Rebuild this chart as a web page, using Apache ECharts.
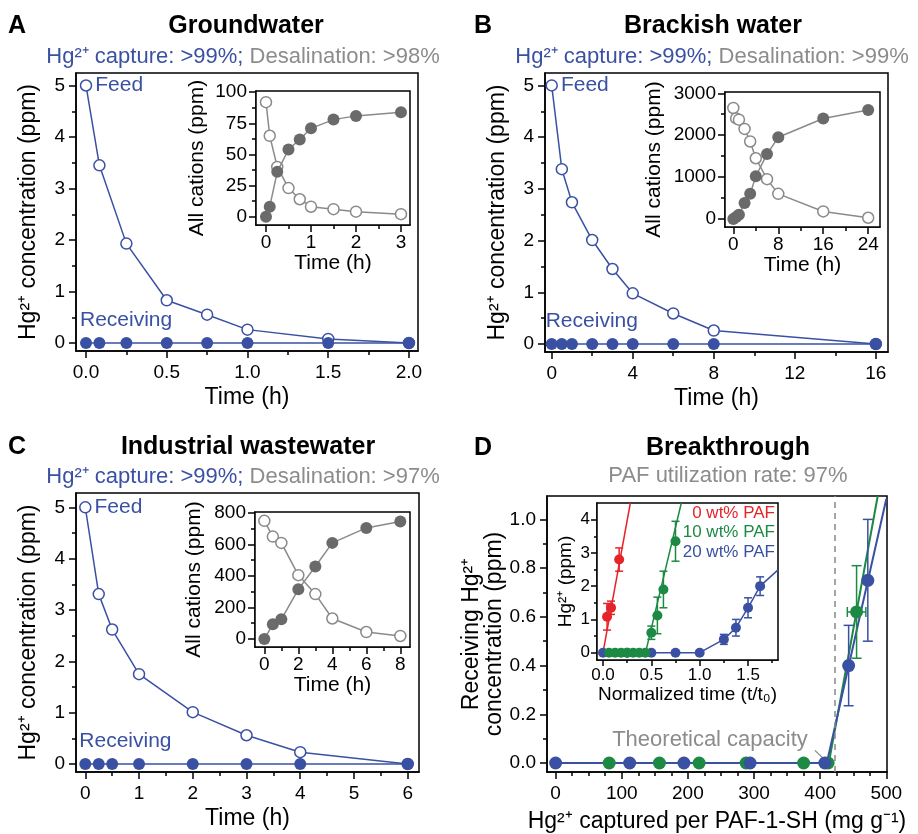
<!DOCTYPE html>
<html><head><meta charset="utf-8">
<script src="https://cdn.jsdelivr.net/npm/echarts@6/dist/echarts.min.js"></script>
<style>html,body{margin:0;padding:0;background:#fff}#c{width:918px;height:834px}</style>
</head><body><div id="c"></div>
<script>
// ---------------- DATA ----------------
// Panel A: Groundwater
const timeA = [0, 0.083, 0.25, 0.5, 0.75, 1.0, 1.5, 2.0];
const feedA = [5.0, 3.45, 1.93, 0.83, 0.55, 0.26, 0.08, 0.0];
const recvA = [0, 0, 0, 0, 0, 0, 0, 0];
const insetTimeA = [0, 0.083, 0.25, 0.5, 0.75, 1.0, 1.5, 2.0, 3.0];
const insetFeedA = [92, 65, 40, 23, 14, 8, 6, 4, 2];
const insetRecvA = [0, 8, 36, 54, 62, 71, 78, 81, 84];
// Panel B: Brackish water
const timeB = [0, 0.5, 1, 2, 3, 4, 6, 8, 16];
const feedB = [5.0, 3.38, 2.74, 2.01, 1.45, 0.98, 0.59, 0.26, 0.0];
const recvB = [0, 0, 0, 0, 0, 0, 0, 0, 0];
const insetTimeB = [0, 0.5, 1, 2, 3, 4, 6, 8, 16, 24];
const insetFeedB = [2650, 2400, 2370, 2150, 1850, 1450, 950, 600, 180, 30];
const insetRecvB = [0, 50, 100, 380, 600, 1020, 1550, 1950, 2400, 2600];
// Panel C: Industrial wastewater
const timeC = [0, 0.25, 0.5, 1, 2, 3, 4, 6];
const feedC = [5.0, 3.31, 2.62, 1.75, 1.01, 0.56, 0.23, 0.0];
const recvC = [0, 0, 0, 0, 0, 0, 0, 0];
const insetTimeC = [0, 0.5, 1, 2, 3, 4, 6, 8];
const insetFeedC = [750, 650, 610, 405, 285, 130, 44, 19];
const insetRecvC = [0, 93, 125, 315, 460, 610, 705, 745];
// Panel D: Breakthrough (main)
const dBlueX = [0, 112, 194, 294, 407, 443, 472];
const dBlueY = [0, 0, 0, 0, 0, 0.40, 0.75];
const dBlueErrY = [0, 0, 0, 0, 0, 0.165, 0.25];
const dGreenX = [81, 157, 217, 288, 375, 412, 455];
const dGreenY = [0, 0, 0, 0, 0, 0, 0.62];
const dGreenErrY = [0, 0, 0, 0, 0, 0, 0.19];
const dGreenErrX = [0, 0, 0, 0, 0, 0, 14];
const dBlueLine = [[0, 0], [410, 0], [500, 1.085]];
const dGreenLine = [[81, 0], [413, 0], [487, 1.096]];
const theoreticalCapacity = 422;
const capacityLeader = [[392, 0.052], [412, 0.0]];
// Panel D inset
const inRedX = [0.042, 0.083, 0.167];
const inRedY = [1.08, 1.35, 2.8];
const inRedErr = [0.4, 0.2, 0.35];
const inRedFit = [[0, 0], [0.283, 4.5]];
const inGreenX = [0.0625, 0.125, 0.1875, 0.25, 0.3125, 0.375, 0.4375, 0.5, 0.5625, 0.625, 0.75];
const inGreenY = [0, 0, 0, 0, 0, 0, 0, 0.6, 1.12, 1.9, 3.35];
const inGreenErr = [0, 0, 0, 0, 0, 0, 0, 0.2, 0.55, 0.55, 0.6];
const inGreenFit = [[0, 0], [0.44, 0], [0.81, 4.5]];
const inBlueX = [0, 0.25, 0.5, 0.75, 1.0, 1.25, 1.375, 1.5, 1.625];
const inBlueY = [0, 0, 0, 0, 0, 0.4, 0.75, 1.35, 2.0];
const inBlueErr = [0, 0, 0, 0, 0, 0.15, 0.25, 0.3, 0.28];
const inBlueLineEnd = [1.81, 2.49];
// Tick values
const ticksAx = [0, 0.5, 1.0, 1.5, 2.0], minorAx = [0.25, 0.75, 1.25, 1.75];
const ticksMainY = [0, 1, 2, 3, 4, 5], minorMainY = [0.5, 1.5, 2.5, 3.5, 4.5];
const ticksAix = [0, 1, 2, 3], minorAix = [0.5, 1.5, 2.5];
const ticksAiy = [0, 25, 50, 75, 100], minorAiy = [12.5, 37.5, 62.5, 87.5];
const ticksBx = [0, 4, 8, 12, 16], minorBx = [2, 6, 10, 14];
const ticksBix = [0, 8, 16, 24], minorBix = [4, 12, 20];
const ticksBiy = [0, 1000, 2000, 3000], minorBiy = [500, 1500, 2500];
const ticksCx = [0, 1, 2, 3, 4, 5, 6], minorCx = [0.5, 1.5, 2.5, 3.5, 4.5, 5.5];
const ticksCix = [0, 2, 4, 6, 8], minorCix = [1, 3, 5, 7];
const ticksCiy = [0, 200, 400, 600, 800], minorCiy = [100, 300, 500, 700];
const ticksDx = [0, 100, 200, 300, 400, 500], minorDx = [25, 50, 75, 125, 150, 175, 225, 250, 275, 325, 350, 375, 425, 450, 475];
const ticksDy = [0, 0.2, 0.4, 0.6, 0.8, 1.0], minorDy = [0.1, 0.3, 0.5, 0.7, 0.9];
const ticksDix = [0, 0.5, 1.0, 1.5], minorDix = [0.25, 0.75, 1.25, 1.75];
const ticksDiy = [0, 1, 2, 3, 4], minorDiy = [0.5, 1.5, 2.5, 3.5];

// ---------------- STYLE ----------------
const FONT = "'Liberation Sans', Arial, sans-serif";
const BLUE = '#3a51a3', GRAYF = '#6a6a6a', GRAYL = '#8a8a8a', TGRAY = '#8c8c8c', GREEN = '#1c8a43', RED = '#e52429';

const grids = [], xAxes = [], yAxes = [], series = [];
function addGrid(g) {
  grids.push(Object.assign({show: true, borderColor: '#000', borderWidth: 1.5, backgroundColor: '#fff'}, g));
  return grids.length - 1;
}
function addAxis(dim, gi, min, max, major, minor, fmt, o) {
  const arr = dim === 'x' ? xAxes : yAxes;
  const idx = arr.length;
  const pos = dim === 'x' ? 'bottom' : 'left';
  arr.push({
    type: 'value', gridIndex: gi, min: min, max: max, position: pos,
    axisLine: {show: true, onZero: false, lineStyle: {color: '#000', width: 1.5}},
    axisTick: {show: true, customValues: major, length: o.tl || 7, lineStyle: {color: '#000', width: 1.5}},
    axisLabel: {show: true, customValues: major, formatter: fmt, fontSize: o.fs || 19, color: '#000', fontFamily: FONT, margin: o.margin || 10},
    splitLine: {show: false},
    name: o.name, nameLocation: 'middle', nameGap: o.nameGap,
    nameTextStyle: {fontSize: o.nfs || 23, color: '#000', fontFamily: FONT, lineHeight: o.nlh}
  });
  arr.push({
    type: 'value', gridIndex: gi, min: min, max: max, position: pos,
    axisLine: {show: false, onZero: false},
    axisTick: {show: true, customValues: minor, length: o.mtl || 4, lineStyle: {color: '#000', width: 1.5}},
    axisLabel: {show: false}, splitLine: {show: false}
  });
  return idx;
}
const f0 = v => String(Math.round(v));
const f1 = v => v.toFixed(1);
const zip = (xs, ys) => xs.map((x, i) => [x, ys[i]]);

function feedSeries(xi, yi, t, v) {
  const data = zip(t, v);
  data[0] = {value: data[0], label: {show: true, position: 'right', distance: 3, formatter: 'Feed', color: BLUE, fontSize: 21, fontFamily: FONT}};
  return {type: 'line', xAxisIndex: xi, yAxisIndex: yi, data: data, symbol: 'circle', symbolSize: 11,
    itemStyle: {color: '#fff', borderColor: BLUE, borderWidth: 1.5}, lineStyle: {color: BLUE, width: 1.5}, z: 3, animation: false};
}
function recvSeries(xi, yi, t, v) {
  const data = zip(t, v);
  data[0] = {value: data[0], label: {show: true, position: 'top', align: 'left', offset: [-6, -1], formatter: 'Receiving', color: BLUE, fontSize: 21, fontFamily: FONT}};
  return {type: 'line', xAxisIndex: xi, yAxisIndex: yi, data: data, symbol: 'circle', symbolSize: 12,
    itemStyle: {color: BLUE}, lineStyle: {color: BLUE, width: 1.5}, z: 4, animation: false};
}
function insetSeries(xi, yi, t, open, filled) {
  series.push({type: 'line', xAxisIndex: xi, yAxisIndex: yi, data: zip(t, open), symbol: 'circle', symbolSize: 11,
    itemStyle: {color: '#fff', borderColor: GRAYL, borderWidth: 1.5}, lineStyle: {color: GRAYL, width: 1.5}, z: 5, animation: false});
  series.push({type: 'line', xAxisIndex: xi, yAxisIndex: yi, data: zip(t, filled), symbol: 'circle', symbolSize: 12,
    itemStyle: {color: GRAYF}, lineStyle: {color: GRAYL, width: 1.5}, z: 6, animation: false});
}
function errSeries(xi, yi, data, color, capPx, z) {
  return {type: 'custom', xAxisIndex: xi, yAxisIndex: yi, data: data, z: z || 5, animation: false,
    renderItem: function (params, api) {
      const x = api.value(0), y = api.value(1), ey = api.value(2), ex = api.value(3);
      const ch = [];
      const st = {stroke: color, lineWidth: 1.5};
      if (ey > 0) {
        const a = api.coord([x, y + ey]), b = api.coord([x, y - ey]);
        ch.push({type: 'line', shape: {x1: a[0], y1: a[1], x2: b[0], y2: b[1]}, style: st});
        ch.push({type: 'line', shape: {x1: a[0] - capPx, y1: a[1], x2: a[0] + capPx, y2: a[1]}, style: st});
        ch.push({type: 'line', shape: {x1: b[0] - capPx, y1: b[1], x2: b[0] + capPx, y2: b[1]}, style: st});
      }
      if (ex > 0) {
        const a = api.coord([x - ex, y]), b = api.coord([x + ex, y]);
        ch.push({type: 'line', shape: {x1: a[0], y1: a[1], x2: b[0], y2: b[1]}, style: st});
        ch.push({type: 'line', shape: {x1: a[0], y1: a[1] - capPx, x2: a[0], y2: a[1] + capPx}, style: st});
        ch.push({type: 'line', shape: {x1: b[0], y1: b[1] - capPx, x2: b[0], y2: b[1] + capPx}, style: st});
      }
      return {type: 'group', children: ch};
    }};
}
function dots(xi, yi, xs, ys, color, size, z) {
  return {type: 'scatter', xAxisIndex: xi, yAxisIndex: yi, data: zip(xs, ys), symbol: 'circle', symbolSize: size,
    itemStyle: {color: color, opacity: 1}, z: z, animation: false};
}
const CONC = 'Hg\u00b2\u207a concentration (ppm)';

// ---- Panel A ----
let g = addGrid({left: 76, top: 73, width: 342, height: 278});
let xi = addAxis('x', g, -0.062, 2.056, ticksAx, minorAx, f1, {name: 'Time (h)', nameGap: 35, margin: 12});
let yi = addAxis('y', g, -0.155, 5.243, ticksMainY, minorMainY, f0, {name: CONC, nameGap: 36, margin: 11});
series.push(feedSeries(xi, yi, timeA, feedA), recvSeries(xi, yi, timeA, recvA));
g = addGrid({left: 256, top: 91, width: 154, height: 134, z: 3});
xi = addAxis('x', g, -0.222, 3.2, ticksAix, minorAix, f0, {name: 'Time (h)', nameGap: 27, nfs: 21, margin: 8});
yi = addAxis('y', g, -6.7, 101, ticksAiy, minorAiy, f0, {name: 'All cations (ppm)', nameGap: 48, nfs: 21, margin: 9});
insetSeries(xi, yi, insetTimeA, insetFeedA, insetRecvA);

// ---- Panel B ----
g = addGrid({left: 545, top: 73, width: 343, height: 279});
xi = addAxis('x', g, -0.33, 16.6, ticksBx, minorBx, f0, {name: 'Time (h)', nameGap: 35, margin: 12});
yi = addAxis('y', g, -0.155, 5.24, ticksMainY, minorMainY, f0, {name: CONC, nameGap: 36, margin: 11});
series.push(feedSeries(xi, yi, timeB, feedB), recvSeries(xi, yi, timeB, recvB));
g = addGrid({left: 725, top: 92, width: 155, height: 135, z: 3});
xi = addAxis('x', g, -1.48, 26.1, ticksBix, minorBix, f0, {name: 'Time (h)', nameGap: 27, nfs: 21, margin: 8});
yi = addAxis('y', g, -191, 3031, ticksBiy, minorBiy, f0, {name: 'All cations (ppm)', nameGap: 60, nfs: 21, margin: 9});
insetSeries(xi, yi, insetTimeB, insetFeedB, insetRecvB);

// ---- Panel C ----
g = addGrid({left: 76, top: 493, width: 343, height: 279});
xi = addAxis('x', g, -0.173, 6.21, ticksCx, minorCx, f0, {name: 'Time (h)', nameGap: 35, margin: 12});
yi = addAxis('y', g, -0.156, 5.28, ticksMainY, minorMainY, f0, {name: CONC, nameGap: 36, margin: 11});
series.push(feedSeries(xi, yi, timeC, feedC), recvSeries(xi, yi, timeC, recvC));
g = addGrid({left: 255, top: 512, width: 155, height: 135, z: 3});
xi = addAxis('x', g, -0.55, 8.57, ticksCix, minorCix, f0, {name: 'Time (h)', nameGap: 27, nfs: 21, margin: 8});
yi = addAxis('y', g, -51, 806, ticksCiy, minorCiy, f0, {name: 'All cations (ppm)', nameGap: 50, nfs: 21, margin: 9});
insetSeries(xi, yi, insetTimeC, insetFeedC, insetRecvC);

// ---- Panel D ----
g = addGrid({left: 547, top: 496, width: 340, height: 276});
xi = addAxis('x', g, -13, 501, ticksDx, minorDx, f0, {name: 'Hg\u00b2\u207a captured per PAF-1-SH (mg g\u207b\u00b9)', nameGap: 38, margin: 12, mtl: 4});
yi = addAxis('y', g, -0.037, 1.096, ticksDy, minorDy, f1, {name: 'Receiving Hg\u00b2\u207a\nconcentration (ppm)', nameGap: 29, nlh: 23, margin: 11});
series.push({type: 'line', xAxisIndex: xi, yAxisIndex: yi, data: dGreenLine, symbol: 'none', lineStyle: {color: GREEN, width: 2}, z: 3, animation: false,
  markLine: {silent: true, symbol: 'none', label: {show: false}, animation: false,
    data: [
      {xAxis: theoreticalCapacity, lineStyle: {color: '#888', type: [6, 5], width: 1.5}},
      [{coord: capacityLeader[0], lineStyle: {color: '#888', type: 'solid', width: 1.2}}, {coord: capacityLeader[1]}]
    ]}});
series.push({type: 'line', xAxisIndex: xi, yAxisIndex: yi, data: dBlueLine, symbol: 'none', lineStyle: {color: BLUE, width: 2}, z: 4, animation: false});
series.push(errSeries(xi, yi, dGreenX.map((x, i) => [x, dGreenY[i], dGreenErrY[i], dGreenErrX[i]]), GREEN, 5, 5));
series.push(dots(xi, yi, dGreenX, dGreenY, GREEN, 13, 6));
series.push(errSeries(xi, yi, dBlueX.map((x, i) => [x, dBlueY[i], dBlueErrY[i], 0]), BLUE, 5, 7));
series.push(dots(xi, yi, dBlueX, dBlueY, BLUE, 13, 8));

g = addGrid({left: 597, top: 503, width: 181, height: 157, z: 3});
xi = addAxis('x', g, -0.062, 1.81, ticksDix, minorDix, f1, {name: 'Normalized time (t/t\u2080)', nameGap: 25, nfs: 19, fs: 17, margin: 7, tl: 6, mtl: 3});
yi = addAxis('y', g, -0.22, 4.5, ticksDiy, minorDiy, f0, {name: 'Hg\u00b2\u207a (ppm)', nameGap: 22, nfs: 19, fs: 17, margin: 7, tl: 6, mtl: 3});
series.push({type: 'line', xAxisIndex: xi, yAxisIndex: yi, data: inRedFit, symbol: 'none', lineStyle: {color: RED, width: 1.5}, z: 10, animation: false});
series.push({type: 'line', xAxisIndex: xi, yAxisIndex: yi, data: inGreenFit, symbol: 'none', lineStyle: {color: GREEN, width: 1.5}, z: 10, animation: false});
series.push({type: 'line', xAxisIndex: xi, yAxisIndex: yi, data: zip(inBlueX, inBlueY).concat([inBlueLineEnd]), symbol: 'none', lineStyle: {color: BLUE, width: 1.5}, z: 10, animation: false});
series.push(errSeries(xi, yi, inRedX.map((x, i) => [x, inRedY[i], inRedErr[i], 0]), RED, 4, 11));
series.push(errSeries(xi, yi, inGreenX.map((x, i) => [x, inGreenY[i], inGreenErr[i], 0]), GREEN, 4, 11));
series.push(errSeries(xi, yi, inBlueX.map((x, i) => [x, inBlueY[i], inBlueErr[i], 0]), BLUE, 4, 11));
series.push(dots(xi, yi, inBlueX, inBlueY, BLUE, 10, 12));
series.push(dots(xi, yi, inGreenX, inGreenY, GREEN, 10, 13));
series.push(dots(xi, yi, inRedX, inRedY, RED, 10, 14));

// ---------------- TEXT ----------------
function txt(x, y, text, font, fill, align) {
  return {type: 'text', x: x, y: y, z: 100, style: {text: text, font: font, fill: fill, align: align || 'center', verticalAlign: 'middle'}};
}
function sub(x, y, a, b) {
  return {type: 'text', x: x, y: y, z: 100, style: {text: '{a|' + a + '}{b|' + b + '}', align: 'center', verticalAlign: 'middle',
    rich: {a: {fill: BLUE, fontSize: 22, fontFamily: FONT}, b: {fill: TGRAY, fontSize: 22, fontFamily: FONT}}}};
}
const BOLD = 'bold 25px ' + FONT;
const graphic = [
  txt(17, 26, 'A', BOLD, '#000'), txt(246, 26, 'Groundwater', BOLD, '#000'),
  sub(243, 57, 'Hg\u00b2\u207a capture: >99%;', ' Desalination: >98%'),
  txt(483, 26, 'B', BOLD, '#000'), txt(713, 26, 'Brackish water', BOLD, '#000'),
  sub(712, 57, 'Hg\u00b2\u207a capture: >99%;', ' Desalination: >99%'),
  txt(17, 447, 'C', BOLD, '#000'), txt(248, 447, 'Industrial wastewater', BOLD, '#000'),
  sub(243, 477, 'Hg\u00b2\u207a capture: >99%;', ' Desalination: >97%'),
  txt(483, 448, 'D', BOLD, '#000'), txt(728, 448, 'Breakthrough', BOLD, '#000'),
  txt(728, 476, 'PAF utilization rate: 97%', '22px ' + FONT, TGRAY),
  txt(710, 740, 'Theoretical capacity', '22px ' + FONT, TGRAY),
  txt(775, 513, '0 wt% PAF', '17px ' + FONT, RED, 'right'),
  txt(775, 532, '10 wt% PAF', '17px ' + FONT, GREEN, 'right'),
  txt(775, 552, '20 wt% PAF', '17px ' + FONT, BLUE, 'right')
];

const chart = echarts.init(document.getElementById('c'), null, {renderer: 'canvas'});
chart.setOption({animation: false, backgroundColor: '#fff', grid: grids, xAxis: xAxes, yAxis: yAxes, series: series, graphic: graphic});
</script></body></html>
